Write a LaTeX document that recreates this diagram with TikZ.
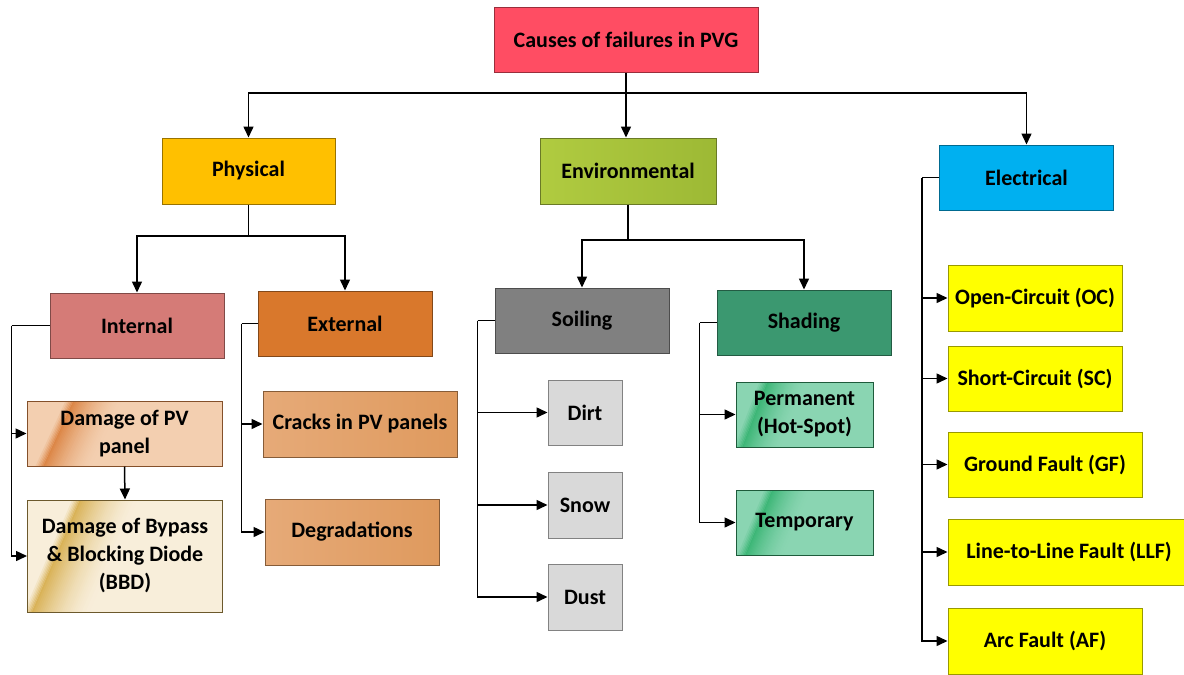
\documentclass[tikz,border=0pt]{standalone}
\usepackage{fontspec}
\setmainfont{Carlito}
\usetikzlibrary{arrows.meta,calc}

\definecolor{cRoot}{HTML}{FF4D63}
\definecolor{cPhys}{HTML}{FFC000}
\definecolor{cEnv}{HTML}{B0CB40}
\definecolor{cEnvD}{HTML}{9DB935}
\definecolor{cElec}{HTML}{00B0F0}
\definecolor{cInt}{HTML}{D57B77}
\definecolor{cExt}{HTML}{D9782C}
\definecolor{cSoil}{HTML}{808080}
\definecolor{cShad}{HTML}{3B9870}
\definecolor{cDPV}{HTML}{F3CFB0}
\definecolor{cDPVd}{HTML}{DC8646}
\definecolor{cBBD}{HTML}{F8EEDA}
\definecolor{cBBDd}{HTML}{D9B257}
\definecolor{cCrk}{HTML}{E6AA78}
\definecolor{cCrkD}{HTML}{DF9A5E}
\definecolor{cGrey}{HTML}{D9D9D9}
\definecolor{cMint}{HTML}{8AD5B2}
\definecolor{cMintD}{HTML}{3CB676}
\definecolor{cYel}{HTML}{FFFF00}

% glossy slanted band inside a node: #1 dark colour, #2 base colour,
% #3 offset of the band from the left edge at the top, #4 slant over the height,
% #5 width of the fade to the right
\newcommand\bandfill[5]{%
  \foreach \i in {0,...,29}{%
    \pgfmathtruncatemacro\mix{100*(1-\i/30)^1.7}%
    \fill[#1!\mix!#2] ($(path picture bounding box.north west)+({#3+#5/30*\i},0)$) -- ++({#5/30+0.8},0)
      -- ($(path picture bounding box.south west)+({#3-#4+#5/30*(\i+1)+0.8},0)$) -- ++({-#5/30-0.8},0) -- cycle;}%
  \foreach \i in {1,...,5}{%
    \pgfmathtruncatemacro\mix{100-17*\i}%
    \fill[#1!\mix!#2] ($(path picture bounding box.north west)+({#3-1.5*\i},0)$) -- ++(1.7,0)
      -- ($(path picture bounding box.south west)+({#3-#4-1.5*\i+1.7},0)$) -- ++(-1.7,0) -- cycle;}%
}

\tikzset{
  boxbase/.style={rectangle, inner sep=2pt, align=center, text=black,
    font=\fontsize{22}{28}\selectfont\bfseries, line width=1pt},
  cell/.style={boxbase, draw=#1!60!black, fill=#1},
  wire/.style={line width=1.5pt, draw=black},
  arr/.style={wire, -{Triangle[length=11pt,width=10pt]}},
}

\begin{document}
\begin{tikzpicture}[x=1pt,y=-1pt]
\useasboundingbox[fill=white] (0,0) rectangle (1184,675);

% top level
\node[cell=cRoot, minimum width=264, minimum height=65] (root) at (626,39.5) {Causes of failures in PVG};

\node[cell=cPhys, minimum width=173, minimum height=66] (phys) at (248.5,171) {Physical};
\node[boxbase, draw=cEnv!60!black, left color=cEnv, middle color=cEnv, right color=cEnvD,
      minimum width=176, minimum height=66] (env) at (628,171) {Environmental};
\node[cell=cElec, minimum width=174, minimum height=65] (elec) at (1026.5,177.5) {Electrical};

% second level
\node[cell=cInt, minimum width=174, minimum height=65] (int) at (137,325.5) {Internal};
\node[cell=cExt, minimum width=174, minimum height=65] (ext) at (345,323.5) {External};
\node[cell=cSoil, minimum width=174, minimum height=65] (soil) at (582,320.5) {Soiling};
\node[cell=cShad, minimum width=174, minimum height=65] (shad) at (804,322.5) {Shading};

% physical / internal
\node[cell=cDPV, draw=cDPVd!60!black, path picture={\bandfill{cDPVd}{cDPV}{46}{30}{50}},
      minimum width=195, minimum height=65] (dpv) at (124.5,433.5) {Damage of PV\\panel};
\node[cell=cBBD, draw=cBBDd!50!black, path picture={\bandfill{cBBDd}{cBBD}{52}{48}{60}},
      minimum width=195, minimum height=112] (bbd) at (125,556) {Damage of Bypass\\\& Blocking Diode\\(BBD)};

% physical / external
\node[boxbase, draw=cCrkD!60!black, left color=cCrk, middle color=cCrk, right color=cCrkD,
      minimum width=194, minimum height=66] (crk) at (360,424) {Cracks in PV panels};
\node[boxbase, draw=cCrkD!60!black, left color=cCrk, middle color=cCrk, right color=cCrkD,
      minimum width=174, minimum height=66] (deg) at (352,532) {Degradations};

% environmental / soiling
\node[cell=cGrey, minimum width=74, minimum height=65] (dirt) at (585,412.5) {Dirt};
\node[cell=cGrey, minimum width=74, minimum height=66] (snow) at (585,505) {Snow};
\node[cell=cGrey, minimum width=74, minimum height=66] (dust) at (585,597) {Dust};

% environmental / shading
\node[cell=cMint, draw=cMintD!50!black, path picture={\bandfill{cMintD}{cMint}{31}{25}{40}},
      minimum width=137, minimum height=65] (perm) at (804.5,414.5) {Permanent\\(Hot-Spot)};
\node[cell=cMint, draw=cMintD!50!black, path picture={\bandfill{cMintD}{cMint}{36}{27}{40}},
      minimum width=137, minimum height=65] (temp) at (804.5,522.5) {Temporary};

% electrical
\node[cell=cYel, minimum width=174, minimum height=66] (oc) at (1035,298) {Open-Circuit (OC)};
\node[cell=cYel, minimum width=174, minimum height=65] (sc) at (1035,378.5) {Short-Circuit (SC)};
\node[cell=cYel, minimum width=194, minimum height=65] (gf) at (1045,464.5) {Ground Fault (GF)};
\node[cell=cYel, minimum width=242, minimum height=66] (llf) at (1069,552) {Line-to-Line Fault (LLF)};
\node[cell=cYel, minimum width=194, minimum height=66] (af) at (1045,641) {Arc Fault (AF)};

% junction points of the connectors
\coordinate (b1) at (626,93);
\coordinate (b2) at (248.5,236);
\coordinate (b3) at (628,240);
\coordinate (iL) at ([xshift=-38pt]int.west);
\coordinate (eL) at ([xshift=-16pt]ext.west);
\coordinate (sL) at ([xshift=-17pt]soil.west);
\coordinate (hL) at ([xshift=-17pt]shad.west);
\coordinate (cL) at ([xshift=-17pt]elec.west);

% root to the three groups
\draw[wire] (root.south) -- (b1);
\draw[arr] (b1) -| (phys.north);
\draw[arr] (b1) -- (b1 |- env.north);
\draw[arr] (b1) -| (elec.north);

% physical
\draw[wire] (phys.south) -- (b2);
\draw[arr] (b2) -| (int.north);
\draw[arr] (b2) -| (ext.north);
\draw[wire] (int.west) -- (iL);
\draw[arr] (iL) |- (dpv.west);
\draw[arr] (iL) |- (bbd.west);
\draw[arr] (dpv.south) -- (bbd.north);
\draw[wire] (ext.west) -- (eL);
\draw[arr] (eL) |- (crk.west);
\draw[arr] (eL) |- (deg.west);

% environmental
\draw[wire] (env.south) -- (b3);
\draw[arr] (b3) -| (soil.north);
\draw[arr] (b3) -| (shad.north);
\draw[wire] (soil.west) -- (sL);
\draw[arr] (sL) |- (dirt.west);
\draw[arr] (sL) |- (snow.west);
\draw[arr] (sL) |- (dust.west);
\draw[wire] (shad.west) -- (hL);
\draw[arr] (hL) |- (perm.west);
\draw[arr] (hL) |- (temp.west);

% electrical
\draw[wire] (elec.west) -- (cL);
\draw[arr] (cL) |- (oc.west);
\draw[arr] (cL) |- (sc.west);
\draw[arr] (cL) |- (gf.west);
\draw[arr] (cL) |- (llf.west);
\draw[arr] (cL) |- (af.west);
\end{tikzpicture}
\end{document}
